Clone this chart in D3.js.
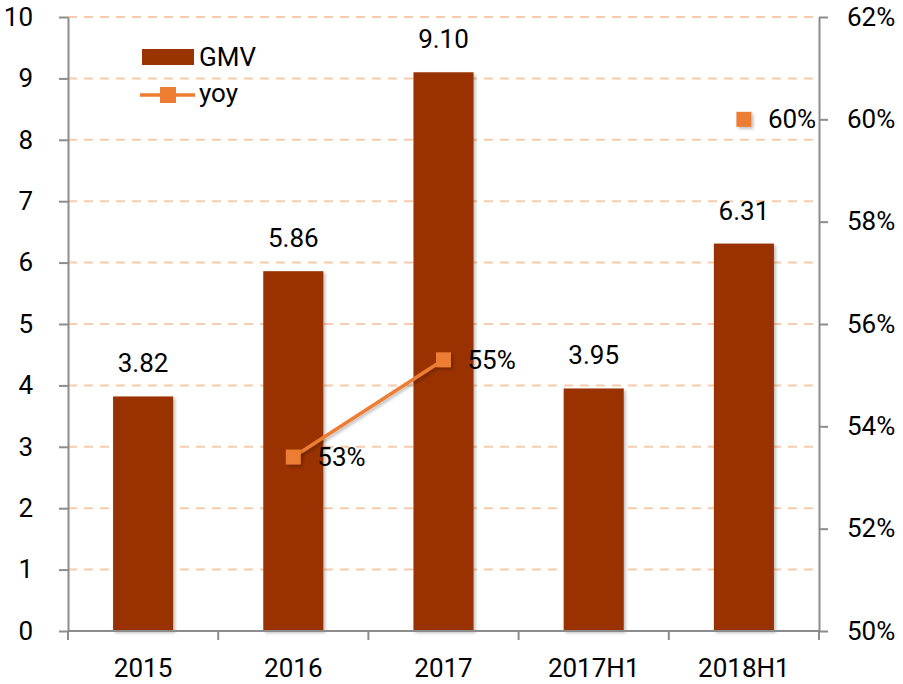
<!DOCTYPE html>
<html>
<head>
<meta charset="utf-8">
<script src="https://cdn.jsdelivr.net/npm/d3@7"></script>
<style>
  body { margin: 0; background: #fff; }
  text { font-family: Roboto, "Noto Sans", sans-serif; fill: #000; }
</style>
</head>
<body>
<div id="chart"></div>
<script>
// data
const categories = ["2015", "2016", "2017", "2017H1", "2018H1"];
const gmv = [3.82, 5.86, 9.10, 3.95, 6.31];
const yoy = [null, 53.4, 55.3, null, 60.0];
const leftTicks = [0, 1, 2, 3, 4, 5, 6, 7, 8, 9, 10];
const rightTicks = [50, 52, 54, 56, 58, 60, 62];

// layout
const W = 903, H = 684;
const margin = {top: 17, right: 84, bottom: 53, left: 68};
const width = W - margin.left - margin.right;
const height = H - margin.top - margin.bottom;

const barColor = "#993300";
const lineColor = "#ed7d31";
const gridColor = "#f8cbad";
const axisColor = "#8c8c8c";
const fontSize = 26;
const fontFamily = 'Roboto, "Noto Sans", sans-serif';

const svg = d3.select("#chart").append("svg")
  .attr("width", W).attr("height", H);

const defs = svg.append("defs");
const f = defs.append("filter").attr("id", "shadow")
  .attr("x", "-20%").attr("y", "-20%").attr("width", "150%").attr("height", "150%");
f.append("feDropShadow").attr("dx", 2).attr("dy", 2).attr("stdDeviation", 1.5)
  .attr("flood-color", "#000").attr("flood-opacity", 0.25);

const g = svg.append("g").attr("transform", `translate(${margin.left},${margin.top})`);

// scales
const x = d3.scaleBand().domain(categories).range([0, width])
  .paddingInner(0.6).paddingOuter(0.3);
const y = d3.scaleLinear().domain([0, 10]).range([height, 0]);
const y2 = d3.scaleLinear().domain([50, 62]).range([height, 0]);

//gridlines
g.append("g").selectAll("line").data(leftTicks.filter(d => d > 0))
  .join("line")
    .attr("x1", 0).attr("x2", width)
    .attr("y1", d => y(d)).attr("y2", d => y(d))
    .attr("stroke", gridColor).attr("stroke-width", 2)
    .attr("stroke-dasharray", "9,7");

//bars
g.append("g").selectAll("rect").data(gmv)
  .join("rect")
    .attr("x", (d, i) => x(categories[i]))
    .attr("y", d => y(d))
    .attr("width", x.bandwidth())
    .attr("height", d => height - y(d))
    .attr("fill", barColor)
    .attr("filter", "url(#shadow)");

g.append("g").selectAll("text").data(gmv)
  .join("text")
    .attr("x", (d, i) => x(categories[i]) + x.bandwidth() / 2)
    .attr("y", d => y(d) - 24)
    .attr("text-anchor", "middle")
    .attr("font-size", fontSize)
    .text(d => d3.format(".2f")(d));

//axes
const leftAxis = g.append("g")
  .call(d3.axisLeft(y).tickValues(leftTicks).tickSize(9).tickPadding(26).tickSizeOuter(0));
const rightAxis = g.append("g").attr("transform", `translate(${width},0)`)
  .call(d3.axisRight(y2).tickValues(rightTicks).tickSize(9).tickPadding(19).tickSizeOuter(0)
    .tickFormat(d => d + "%"));

const offset = (x.step() - x.bandwidth()) / 2;
const bounds = categories.map(c => x(c) - offset).concat([width]);
const bottomAxis = g.append("g").attr("transform", `translate(0,${height})`);
bottomAxis.append("line").attr("x1", 0).attr("x2", width).attr("y1", 0).attr("y2", 0)
  .attr("stroke", axisColor).attr("stroke-width", 2);
bottomAxis.selectAll(".tk").data(bounds).join("line").attr("class", "tk")
  .attr("x1", d => d).attr("x2", d => d).attr("y1", 0).attr("y2", 9)
  .attr("stroke", axisColor).attr("stroke-width", 2);
bottomAxis.selectAll("text").data(categories).join("text")
  .attr("x", d => x(d) + x.bandwidth() / 2)
  .attr("y", 46)
  .attr("text-anchor", "middle")
  .attr("font-size", fontSize)
  .text(d => d);

[leftAxis, rightAxis].forEach(a => {
  a.select(".domain").attr("stroke", axisColor).attr("stroke-width", 2);
  a.selectAll(".tick line").attr("stroke", axisColor).attr("stroke-width", 2);
  a.selectAll(".tick text").attr("font-size", fontSize)
    .attr("font-family", fontFamily).attr("fill", "#000");
});

//yoy line
const pts = yoy.map((v, i) => ({cat: categories[i], v}));
const line = d3.line()
  .defined(d => d.v != null)
  .x(d => x(d.cat) + x.bandwidth() / 2)
  .y(d => y2(d.v));
g.append("path").datum(pts)
  .attr("d", line)
  .attr("fill", "none")
  .attr("stroke", lineColor)
  .attr("stroke-width", 3.5)
  .attr("filter", "url(#shadow)");

const ms = 15;
const valid = pts.filter(d => d.v != null);
g.append("g").selectAll("rect").data(valid)
  .join("rect")
    .attr("x", d => x(d.cat) + x.bandwidth() / 2 - ms / 2)
    .attr("y", d => y2(d.v) - ms / 2)
    .attr("width", ms).attr("height", ms)
    .attr("fill", lineColor)
    .attr("filter", "url(#shadow)");

g.append("g").selectAll("text").data(valid)
  .join("text")
    .attr("x", d => x(d.cat) + x.bandwidth() / 2 + 24)
    .attr("y", d => y2(d.v))
    .attr("dy", "0.35em")
    .attr("font-size", fontSize)
    .text(d => d3.format(".0f")(d.v) + "%");

//legend
const legend = svg.append("g");
legend.append("rect").attr("x", 142).attr("y", 49).attr("width", 52).attr("height", 16)
  .attr("fill", barColor);
legend.append("text").attr("x", 199).attr("y", 66).attr("font-size", fontSize).text("GMV");
legend.append("line").attr("x1", 140).attr("x2", 195).attr("y1", 95).attr("y2", 95)
  .attr("stroke", lineColor).attr("stroke-width", 3.5);
legend.append("rect").attr("x", 160).attr("y", 87).attr("width", 16).attr("height", 16)
  .attr("fill", lineColor);
legend.append("text").attr("x", 199).attr("y", 102).attr("font-size", fontSize).text("yoy");
</script>
</body>
</html>
